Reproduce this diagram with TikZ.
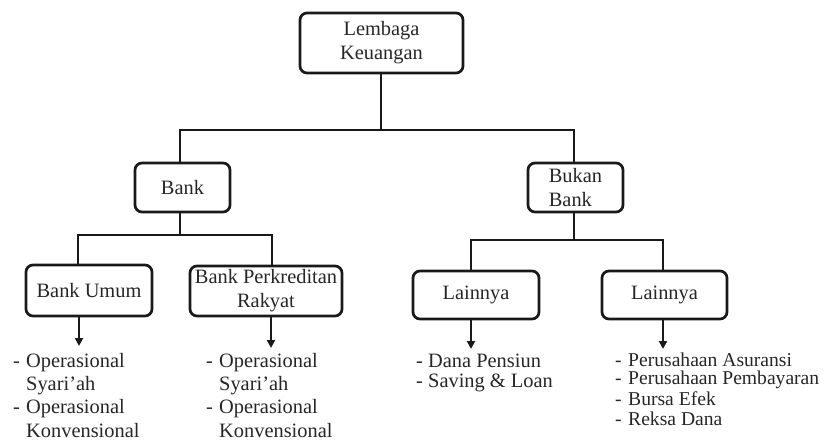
\documentclass[tikz,border=0pt]{standalone}
\usepackage{fontspec}
\setmainfont{Liberation Serif}
\usetikzlibrary{arrows.meta}
\tikzset{
  box/.style={draw=black!90, line width=2.7pt, rounded corners=7pt, inner sep=0pt, align=center,
    font=\fontsize{20.4}{24}\selectfont, text=black!85},
  conn/.style={draw=black!90, line width=2.7pt},
  arr/.style={draw=black!90, line width=2.2pt, -{Triangle[length=8pt,width=8pt]}},
  item/.style={inner sep=0pt, anchor=base west, text height=12pt, text depth=3pt,
    font=\fontsize{20.4}{24}\selectfont, text=black!85},
  itemsm/.style={item, font=\fontsize{19.6}{22}\selectfont}
}
\newcommand{\dsh}[1]{\makebox[#1][l]{-}}
\begin{document}
\begin{tikzpicture}[x=1pt,y=-1pt]
\useasboundingbox (0,0) rectangle (829,443);
% boxes
\node[box, minimum width=163pt, minimum height=60pt] (top) at (381.5,43) {Lembaga\\Keuangan};
\node[box, minimum width=95pt, minimum height=49pt] (bank) at (182.5,187.5) {Bank};
\node[box, minimum width=95pt, minimum height=49pt, align=left] (bukan) at (575.5,187.5) {Bukan\\Bank};
\node[box, minimum width=126pt, minimum height=51pt] (bu) at (89,290.5) {Bank Umum};
\node[box, minimum width=152pt, minimum height=50pt] (bpr) at (266,291) {Bank Perkreditan\\Rakyat};
\node[box, minimum width=126pt, minimum height=48pt] (l1) at (476,295) {Lainnya};
\node[box, minimum width=125pt, minimum height=48pt] (l2) at (664.5,295) {Lainnya};
% junctions
\coordinate (j0) at (381,130);
\coordinate (jL) at (180,130);
\coordinate (jR) at (574,130);
\coordinate (b0) at (180,235);
\coordinate (bL) at (78,235);
\coordinate (bR) at (272,235);
\coordinate (k0) at (574,240);
\coordinate (kL) at (471,240);
\coordinate (kR) at (663,240);
\draw[conn] (top.south -| j0) -- (j0);
\draw[conn, line cap=rect] (jL) -- (jR);
\draw[conn] (jL) -- (jL |- bank.north);
\draw[conn] (jR) -- (jR |- bukan.north);
\draw[conn] (b0 |- bank.south) -- (b0);
\draw[conn, line cap=rect] (bL) -- (bR);
\draw[conn] (bL) -- (bL |- bu.north);
\draw[conn] (bR) -- (bR |- bpr.north);
\draw[conn] (k0 |- bukan.south) -- (k0);
\draw[conn, line cap=rect] (kL) -- (kR);
\draw[conn] (kL) -- (kL |- l1.north);
\draw[conn] (kR) -- (kR |- l2.north);
% arrow ends
\coordinate (a1) at (79,346);
\coordinate (a2) at (271,348);
\coordinate (a3) at (471,349);
\coordinate (a4) at (663,349);
\draw[arr] (a1 |- bu.south) -- (a1);
\draw[arr] (a2 |- bpr.south) -- (a2);
\draw[arr] (a3 |- l1.south) -- (a3);
\draw[arr] (a4 |- l2.south) -- (a4);
% lists
\node[item] (bu1) at (13,367) {\dsh{13pt}Operasional};
\node[item] (bu2) at (26,390) {Syari'ah};
\node[item] (bu3) at (13,413) {\dsh{13pt}Operasional};
\node[item] (bu4) at (26,437) {Konvensional};
\node[item] (bp1) at (206,367) {\dsh{13pt}Operasional};
\node[item] (bp2) at (219,390) {Syari'ah};
\node[item] (bp3) at (206,413) {\dsh{13pt}Operasional};
\node[item] (bp4) at (219,437) {Konvensional};
\node[item] (la1) at (416,367) {\dsh{12pt}Dana Pensiun};
\node[item] (la2) at (416,387) {\dsh{12pt}Saving \& Loan};
\node[itemsm] (lb1) at (615,366) {\dsh{13pt}Perusahaan Asuransi};
\node[itemsm] (lb2) at (615,384) {\dsh{13pt}Perusahaan Pembayaran};
\node[itemsm] (lb3) at (615,405) {\dsh{13pt}Bursa Efek};
\node[itemsm] (lb4) at (615,425) {\dsh{13pt}Reksa Dana};
\end{tikzpicture}
\end{document}
